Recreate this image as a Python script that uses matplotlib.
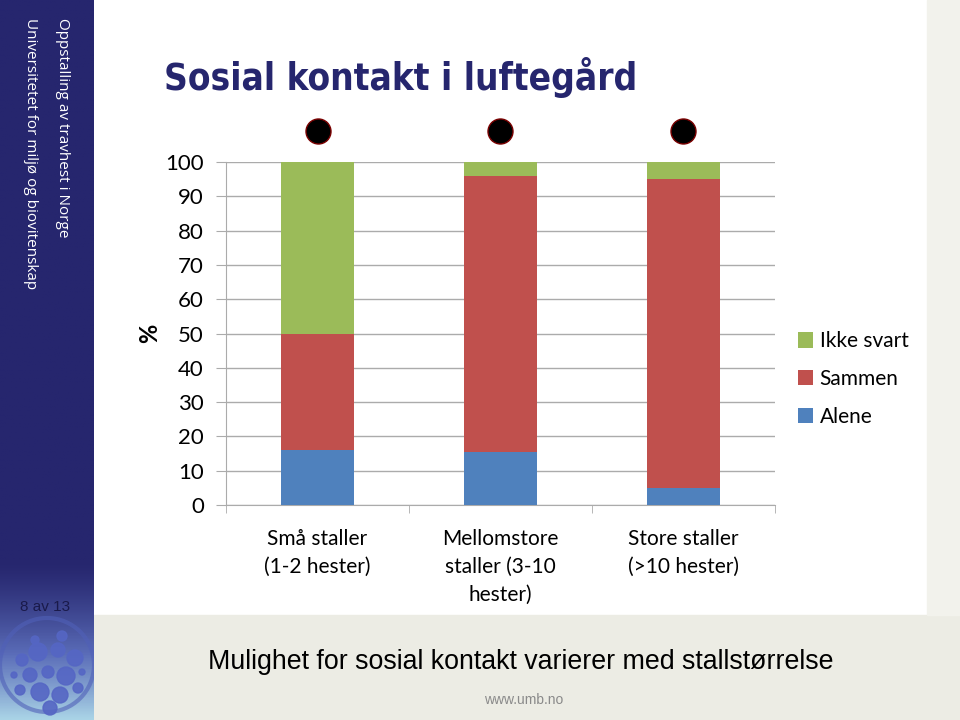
import matplotlib.pyplot as plt
import numpy as np
from matplotlib.patches import Rectangle, Circle
from matplotlib.colors import LinearSegmentedColormap

# data
categories = ['Små staller\n(1-2 hester)', 'Mellomstore\nstaller (3-10\nhester)', 'Store staller\n(>10 hester)']
alene = [16, 15.5, 5]
sammen = [34, 80.5, 90]
ikke_svart = [50, 4, 5]
yticks = [0, 10, 20, 30, 40, 50, 60, 70, 80, 90, 100]
sig_marker_y = [109, 109, 109]

c_green = '#9BBB59'
c_red = '#C0504D'
c_blue = '#4F81BD'
navy = '#26266E'

fig = plt.figure(figsize=(9.6, 7.2), dpi=100)
W, H = 960.0, 720.0

def fx(x):
    return x / W

def fy(y):
    return 1 - y / H

# background strips with dot pattern
fig.patches.append(Rectangle((fx(94), 0), 1 - fx(94), fy(615), transform=fig.transFigure,
                             color='#ECECE4', zorder=0))
fig.patches.append(Rectangle((fx(927), fy(615)), 1 - fx(927), 1 - fy(615), transform=fig.transFigure,
                             color='#F2F2EC', zorder=0))
bg = fig.add_axes([0, 0, 1, 1], zorder=0)
bg.set_xlim(0, W)
bg.set_ylim(H, 0)
bg.axis('off')
gx, gy = np.meshgrid(np.arange(98, 960, 9), np.arange(619, 720, 9))
bg.scatter(gx.ravel(), gy.ravel(), s=2, color='white', marker='s', lw=0)
gx2, gy2 = np.meshgrid(np.arange(931, 960, 9), np.arange(142, 615, 9))
bg.scatter(gx2.ravel(), gy2.ravel(), s=2, color='white', marker='s', lw=0)

# sidebar with gradient
side = fig.add_axes([0, 0, fx(94), 1], zorder=1)
grad = np.linspace(0, 1, 256).reshape(-1, 1)
grad = np.clip((grad - 0.78) / 0.22, 0, 1) ** 1.3
cm = LinearSegmentedColormap.from_list('side', [navy, '#5a6cb8', '#a9d3e6'])
side.imshow(grad, aspect='auto', cmap=cm, extent=[0, 1, 1, 0])
side.set_xlim(0, 1)
side.set_ylim(1, 0)
side.axis('off')

# logo (rough), drawn in pixel units so circles stay round
logo = fig.add_axes([0, 0, fx(94), fy(600)], zorder=2)
logo.set_xlim(0, 94)
logo.set_ylim(720, 600)
logo.axis('off')
logo.add_patch(Circle((47, 665), 47, fill=False, ec='#5060b8', lw=3, alpha=0.6))
logo_dots = [(22, 660, 6), (38, 652, 9), (58, 650, 7), (75, 658, 8), (30, 675, 7), (48, 672, 6),
             (66, 676, 9), (20, 690, 5), (40, 692, 9), (60, 695, 8), (50, 708, 7), (78, 688, 5),
             (35, 640, 4), (62, 636, 5), (14, 675, 3), (82, 672, 3)]
for lx, ly, lr in logo_dots:
    logo.add_patch(Circle((lx, ly), lr, color='#5566c4', alpha=0.9))

fig.text(fx(62), fy(18), 'Oppstalling av travhest i Norge', rotation=270, color='white',
         fontsize=11, family='Open Sans', ha='center', va='top', zorder=3)
fig.text(fx(30), fy(18), 'Universitetet for miljø og biovitenskap', rotation=270, color='white',
         fontsize=11, family='Open Sans', ha='center', va='top', zorder=3)
fig.text(fx(45), fy(607), '8 av 13', color='#1a1a4a', fontsize=11, family='Liberation Sans',
         ha='center', va='center', zorder=3)

# title and footer
fig.text(fx(164), fy(77), 'Sosial kontakt i luftegård', color=navy, fontsize=26.5, fontweight='bold',
         family='DejaVu Sans', fontstretch='condensed', ha='left', va='center')
fig.text(fx(521), fy(662), 'Mulighet for sosial kontakt varierer med stallstørrelse', color='black',
         fontsize=19.3, family='Liberation Sans', ha='center', va='center')
fig.text(fx(524), fy(700), 'www.umb.no', color='#8a8a8a', fontsize=10, family='Liberation Sans',
         ha='center', va='center')

# chart
ax = fig.add_axes([fx(226), fy(505), fx(775) - fx(226), fy(162) - fy(505)], zorder=2)
ax.patch.set_alpha(0)
x = np.arange(len(categories))
bw = 0.4
ax.bar(x, alene, bw, color=c_blue, label='Alene', zorder=3)
ax.bar(x, sammen, bw, bottom=alene, color=c_red, label='Sammen', zorder=3)
ax.bar(x, ikke_svart, bw, bottom=np.add(alene, sammen), color=c_green, label='Ikke svart', zorder=3)
ax.plot(x, sig_marker_y, 'o', ms=18, mfc='black', mec='#7a0000', mew=1, clip_on=False, zorder=4)

ax.set_xlim(-0.5, 2.5)
ax.set_ylim(0, 100)
ax.set_yticks(yticks)
ax.yaxis.grid(True, color='#ababab', lw=1)
ax.set_axisbelow(True)
for s in ['top', 'right']:
    ax.spines[s].set_visible(False)
for s in ['left', 'bottom']:
    ax.spines[s].set_color('#ababab')
ax.tick_params(axis='y', colors='#ababab', length=7, labelsize=16, labelcolor='black', pad=9)
ax.set_xticks(x)
ax.set_xticklabels(categories, fontsize=15, family='Lato', linespacing=1.5)
ax.set_xticks([-0.5, 0.5, 1.5, 2.5], minor=True)
ax.tick_params(axis='x', which='major', length=0, pad=17)
ax.tick_params(axis='x', which='minor', length=6, colors='#ababab')
for lab in ax.get_yticklabels():
    lab.set_family('Lato')
ax.set_ylabel('%', fontsize=17, family='Lato', fontweight='bold', rotation=90)
ax.yaxis.set_label_coords(-0.118, 0.5)

h, l = ax.get_legend_handles_labels()
fig.legend(h[::-1], l[::-1], loc='center left', bbox_to_anchor=(fx(779), fy(379)), frameon=False,
           prop={'family': 'Lato', 'size': 15}, handlelength=0.75, handleheight=0.75,
           handletextpad=0.3, labelspacing=0.85)

fig.savefig('out.png', dpi=100)
